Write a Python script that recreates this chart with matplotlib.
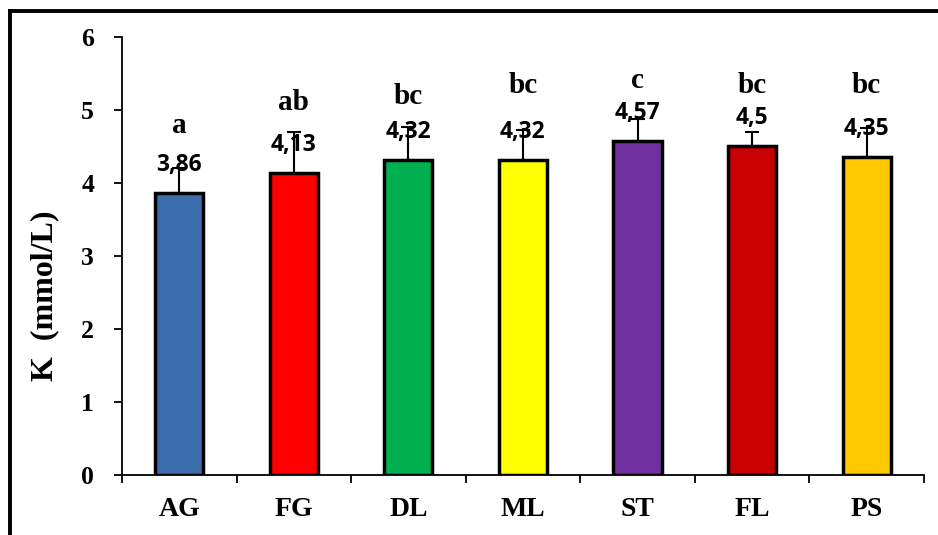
import numpy as np
import matplotlib
matplotlib.use("Agg")
import matplotlib.pyplot as plt
from matplotlib.lines import Line2D

# data
groups = ["AG", "FG", "DL", "ML", "ST", "FL", "PS"]
means = [3.86, 4.13, 4.32, 4.32, 4.57, 4.50, 4.35]
errs = [0.35, 0.57, 0.45, 0.41, 0.30, 0.20, 0.40]
value_labels = ["3,86", "4,13", "4,32", "4,32", "4,57", "4,5", "4,35"]
letters = ["a", "ab", "bc", "bc", "c", "bc", "bc"]
letter_y = [4.79, 5.10, 5.18, 5.34, 5.41, 5.34, 5.34]
colors = ["#3b6cab", "#ff0000", "#00b050", "#ffff00", "#7030a0", "#c80000", "#ffc800"]

serif = "Liberation Serif"

fig = plt.figure(figsize=(9.38, 5.35), dpi=100)
ax = fig.add_axes([0.130, 0.112, 0.855, 0.819])

x = np.arange(len(groups))
ax.bar(x, means, width=0.42, color=colors, edgecolor="black", linewidth=2.5, zorder=3)
ax.errorbar(x, means, yerr=[np.zeros(len(means)), errs], fmt="none",
            ecolor="black", elinewidth=1.5, capsize=5, capthick=1.5, zorder=2)

# value labels and significance letters
for xi, m, lab in zip(x, means, value_labels):
    ax.annotate(lab, (xi, m), xytext=(0, 28), textcoords="offset pixels",
                ha="center", va="center", fontsize=16.5, fontweight="bold",
                family="Open Sans", zorder=5)
for xi, ly, let in zip(x, letter_y, letters):
    ax.text(xi, ly, let, ha="center", va="center", fontsize=21,
            fontweight="bold", family=serif, zorder=5)

ax.set_ylim(0, 6)
ax.set_xlim(-0.5, len(groups) - 0.5)
ax.set_yticks(range(7))
ax.set_yticklabels([str(i) for i in range(7)], fontsize=18.5, fontweight="bold", family=serif)
ax.set_xticks(x)
ax.set_xticklabels(groups, fontsize=20, fontweight="bold", family=serif)
ax.tick_params(axis="x", length=0, pad=16)
ax.set_xticks(np.arange(-0.5, len(groups)), minor=True)
ax.tick_params(axis="x", which="minor", length=6, width=1.3, direction="out")
ax.tick_params(axis="y", length=6, width=1.3, direction="out", pad=14)

ax.set_ylabel("K  (mmol/L)", fontsize=23, fontweight="bold", family=serif)
ax.yaxis.set_label_coords(-0.078, 0.41)

for s in ["top", "right"]:
    ax.spines[s].set_visible(False)
ax.spines["left"].set_linewidth(1.3)
ax.spines["bottom"].set_linewidth(1.3)

# outer frame (left and top only)
top_y = 1 - 10.5 / 535
left_x = 10 / 938
fig.add_artist(Line2D([left_x, left_x], [0, top_y], color="black", linewidth=2.8,
                      transform=fig.transFigure, solid_capstyle="projecting"))
fig.add_artist(Line2D([left_x, 1], [top_y, top_y], color="black", linewidth=2.8,
                      transform=fig.transFigure, solid_capstyle="projecting"))

fig.savefig("out.png", dpi=100)
